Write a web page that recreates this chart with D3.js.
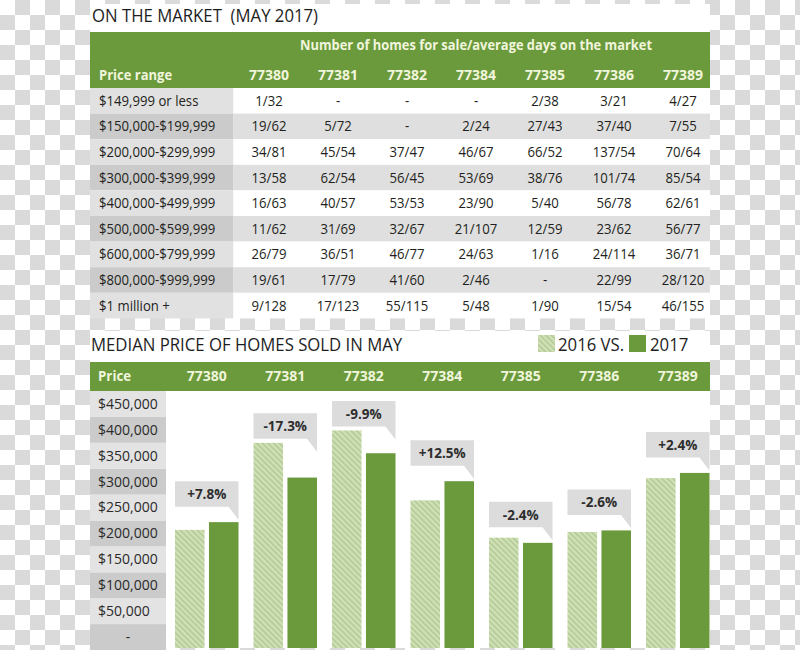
<!DOCTYPE html>
<html>
<head>
<meta charset="utf-8">
<script src="https://cdn.jsdelivr.net/npm/d3@7"></script>
<style>
  html, body { margin: 0; padding: 0; background: #fff; }
  svg { display: block; }
  text { font-family: "Open Sans", "Noto Sans", sans-serif; white-space: pre; }
</style>
</head>
<body>
<script>
// ---------------- DATA ----------------
const zipCodes = ["77380", "77381", "77382", "77384", "77385", "77386", "77389"];

const priceRanges = [
  "$149,999 or less", "$150,000-$199,999", "$200,000-$299,999", "$300,000-$399,999",
  "$400,000-$499,999", "$500,000-$599,999", "$600,000-$799,999", "$800,000-$999,999",
  "$1 million +"
];

const row149k   = ["1/32", "-", "-", "-", "2/38", "3/21", "4/27"];
const row150k   = ["19/62", "5/72", "-", "2/24", "27/43", "37/40", "7/55"];
const row200k   = ["34/81", "45/54", "37/47", "46/67", "66/52", "137/54", "70/64"];
const row300k   = ["13/58", "62/54", "56/45", "53/69", "38/76", "101/74", "85/54"];
const row400k   = ["16/63", "40/57", "53/53", "23/90", "5/40", "56/78", "62/61"];
const row500k   = ["11/62", "31/69", "32/67", "21/107", "12/59", "23/62", "56/77"];
const row600k   = ["26/79", "36/51", "46/77", "24/63", "1/16", "24/114", "36/71"];
const row800k   = ["19/61", "17/79", "41/60", "2/46", "-", "22/99", "28/120"];
const row1m     = ["9/128", "17/123", "55/115", "5/48", "1/90", "15/54", "46/155"];
const marketRows = [row149k, row150k, row200k, row300k, row400k, row500k, row600k, row800k, row1m];

const years = ["2016", "2017"];
const median2016 = [228000, 396000, 420000, 285000, 213000, 224000, 328000];
const median2017 = [243000, 329000, 376000, 322000, 203000, 227000, 338000];
const changeLabels = ["+7.8%", "-17.3%", "-9.9%", "+12.5%", "-2.4%", "-2.6%", "+2.4%"];
const priceTicks = [0, 50000, 100000, 150000, 200000, 250000, 300000, 350000, 400000, 450000];

// ---------------- STYLE ----------------
const GREEN = "#6a9a3c";
const HEAD_TXT = "#f1f5dc";
const INK = "#231f20";

const svg = d3.select("body").append("svg").attr("width", 800).attr("height", 650);
const defs = svg.append("defs");

const chk = defs.append("pattern").attr("id", "checker")
  .attr("patternUnits", "userSpaceOnUse").attr("width", 30).attr("height", 30);
chk.append("rect").attr("width", 30).attr("height", 30).attr("fill", "#ffffff");
chk.append("rect").attr("x", 15).attr("y", 0).attr("width", 15).attr("height", 15).attr("fill", "#dadada");
chk.append("rect").attr("x", 0).attr("y", 15).attr("width", 15).attr("height", 15).attr("fill", "#dadada");

const hatch = defs.append("pattern").attr("id", "hatch")
  .attr("patternUnits", "userSpaceOnUse").attr("width", 4).attr("height", 4)
  .attr("patternTransform", "rotate(-45)");
hatch.append("rect").attr("width", 4).attr("height", 4).attr("fill", "#d0e0b8");
hatch.append("rect").attr("width", 1.6).attr("height", 4).attr("fill", "#b3ca92");

function label(g, x, y, s, o) {
  o = o || {};
  const sx = o.sx || 1;
  return g.append("text")
    .attr("transform", `translate(${x},${y}) scale(${sx},1)`)
    .attr("text-anchor", o.anchor || "start")
    .attr("font-size", o.size || 14)
    .attr("font-weight", o.weight || 400)
    .attr("fill", o.fill || INK)
    .text(s);
}

// background checkerboard
svg.append("rect").attr("width", 800).attr("height", 650).attr("fill", "url(#checker)");

// ---------------- TABLE ----------------
const tableG = svg.append("g");
tableG.append("rect").attr("x", 90).attr("y", 4).attr("width", 620).attr("height", 314).attr("fill", "#fff");
label(tableG, 92, 22, "ON THE MARKET  (MAY 2017)", { size: 18, sx: 0.93, fill: "#1e1e1e" });

tableG.append("rect").attr("x", 90).attr("y", 32).attr("width", 620).attr("height", 56).attr("fill", GREEN);

const xCol = d3.scaleBand().domain(zipCodes).range([234.5, 717.5]);
const colC = z => xCol(z) + xCol.bandwidth() / 2;

label(tableG, colC("77384"), 50, "Number of homes for sale/average days on the market",
  { size: 14, weight: 700, fill: HEAD_TXT, anchor: "middle", sx: 0.92 });
label(tableG, 99, 80, "Price range", { size: 14, weight: 700, fill: HEAD_TXT, sx: 0.93 });
zipCodes.forEach(z => label(tableG, colC(z), 80, z, { size: 14, weight: 700, fill: HEAD_TXT, anchor: "middle" }));

const yRow = d3.scaleBand().domain(d3.range(priceRanges.length)).range([88, 318.4]);
priceRanges.forEach((pr, i) => {
  const y0 = yRow(i), h = yRow.bandwidth();
  const odd = i % 2 === 1;
  tableG.append("rect").attr("x", 90).attr("y", y0).attr("width", 143.5).attr("height", h)
    .attr("fill", odd ? "#cbcbcb" : "#e1e1e1");
  tableG.append("rect").attr("x", 233.5).attr("y", y0).attr("width", 476.5).attr("height", h)
    .attr("fill", odd ? "#dfdfdf" : "#ffffff");
  label(tableG, 99, y0 + h / 2 + 5, pr, { size: 14, sx: 0.94 });
  marketRows[i].forEach((v, j) => label(tableG, colC(zipCodes[j]), y0 + h / 2 + 5, v, { size: 14, sx: 0.94, anchor: "middle" }));
});

// ---------------- BAR CHART ----------------
const chartG = svg.append("g");
chartG.append("rect").attr("x", 90).attr("y", 331).attr("width", 620).attr("height", 317).attr("fill", "#fff");
label(chartG, 91, 351, "MEDIAN PRICE OF HOMES SOLD IN MAY", { size: 18, sx: 0.93, fill: "#1e1e1e" });

// legend
chartG.append("rect").attr("x", 538).attr("y", 335).attr("width", 17).attr("height", 17).attr("fill", "url(#hatch)");
label(chartG, 558, 351, "2016 VS.", { size: 18, sx: 0.93, fill: "#1e1e1e" });
chartG.append("rect").attr("x", 629).attr("y", 335).attr("width", 17).attr("height", 17).attr("fill", GREEN);
label(chartG, 650, 351, "2017", { size: 18, sx: 0.93, fill: "#1e1e1e" });

// header band
chartG.append("rect").attr("x", 90).attr("y", 362).attr("width", 620).attr("height", 29).attr("fill", GREEN);
label(chartG, 98, 381, "Price", { size: 14, weight: 700, fill: HEAD_TXT, sx: 0.95 });

const x0 = d3.scaleBand().domain(zipCodes).range([167.5, 167.5 + 7 * 78.5])
  .paddingInner(0.191).paddingOuter(0.0955);
const x1 = d3.scaleBand().domain(years).range([0, x0.bandwidth()]).paddingInner(0.13);
const y = d3.scaleLinear().domain([0, 450000]).range([648, 648 - 9 * 25.9]);

const xAxis = chartG.append("g").attr("transform", "translate(0,376)")
  .call(d3.axisBottom(x0).tickSize(0).tickPadding(0));
xAxis.select(".domain").remove();
xAxis.selectAll("text").attr("dy", "0.36em").attr("y", 0)
  .attr("font-size", 14).attr("font-weight", 700).attr("fill", HEAD_TXT)
  .attr("font-family", "'Open Sans', sans-serif");

// y label cells
const step = y(0) - y(50000);
chartG.selectAll("rect.ycell").data(priceTicks).enter().append("rect").attr("class", "ycell")
  .attr("x", 90).attr("width", 76)
  .attr("y", d => y(d) - step + 2).attr("height", step)
  .attr("fill", (d, i) => i % 2 === 0 ? "#cbcbcb" : "#e3e3e3");

const yAxis = chartG.append("g").attr("transform", "translate(98,-11)")
  .call(d3.axisLeft(y).tickValues(priceTicks)
    .tickFormat(v => v === 0 ? "-" : d3.format("$,")(v)).tickSize(0).tickPadding(0));
yAxis.select(".domain").remove();
yAxis.selectAll("text")
  .attr("text-anchor", d => d === 0 ? "middle" : "start")
  .attr("x", d => d === 0 ? 30 : 0)
  .attr("font-size", 14).attr("fill", "#2a2a2a")
  .attr("font-family", "'Open Sans', sans-serif");

// bars
const groups = chartG.selectAll("g.grp").data(zipCodes).enter().append("g").attr("class", "grp")
  .attr("transform", z => `translate(${x0(z)},0)`);

groups.each(function (z, i) {
  const g = d3.select(this);
  const vals = [median2016[i], median2017[i]];
  g.selectAll("rect.bar").data(years).enter().append("rect").attr("class", "bar")
    .attr("x", yr => x1(yr)).attr("width", x1.bandwidth())
    .attr("y", (yr, k) => y(vals[k]))
    .attr("height", (yr, k) => y(0) - y(vals[k]))
    .attr("fill", yr => yr === "2016" ? "url(#hatch)" : GREEN);

  // callout
  const w = x0.bandwidth();
  const b = Math.min(y(median2017[i]) - 15.5, y(median2016[i]) - 4);
  const hBox = 25.5;
  g.append("path")
    .attr("d", `M0,${b - hBox} H${w} V${b + 13} L${w - 10},${b} H0 Z`)
    .attr("fill", "#dcdcdc");
  label(g, w / 2, b - hBox / 2 + 5, changeLabels[i], { size: 13.5, weight: 700, fill: "#2e2e2e", anchor: "middle" });
});
</script>
</body>
</html>
